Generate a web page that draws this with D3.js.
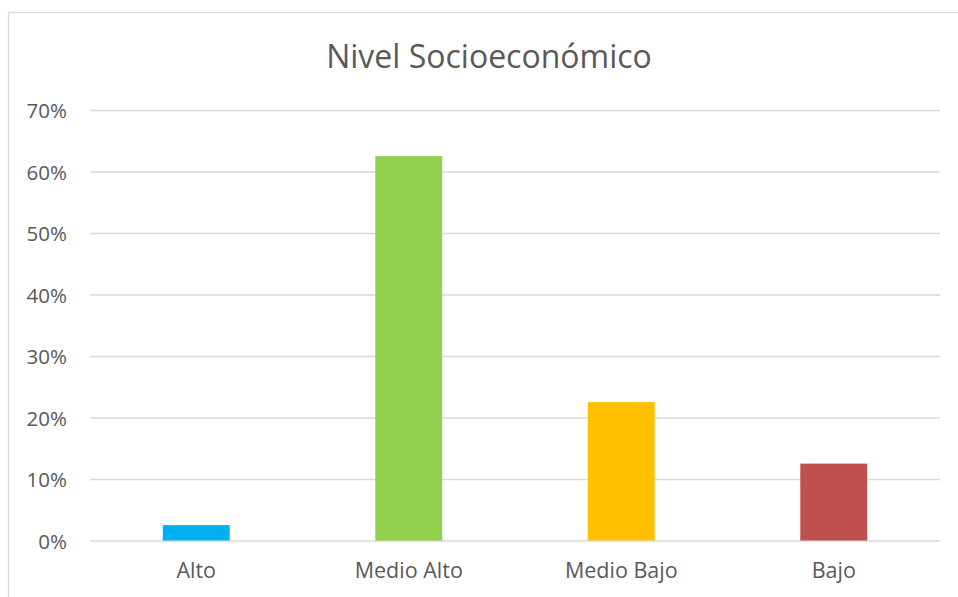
<!DOCTYPE html>
<html>
<head>
<meta charset="utf-8">
<script src="https://cdn.jsdelivr.net/npm/d3@7"></script>
<style>
  html, body { margin: 0; padding: 0; background: #fff; }
  svg { display: block; }
  text { font-family: "Open Sans", "Noto Sans", sans-serif; fill: #595959; }
</style>
</head>
<body>
<svg id="chart" width="958" height="597"></svg>
<script>
// Distribución por nivel socioeconómico
const categories = ["Alto", "Medio Alto", "Medio Bajo", "Bajo"];
const values = [0.025, 0.625, 0.225, 0.125];
const colors = ["#00B0F0", "#92D050", "#FFC000", "#C0504D"];
const yTicks = [0, 0.1, 0.2, 0.3, 0.4, 0.5, 0.6, 0.7];
const title = "Nivel Socioeconómico";

const svg = d3.select("#chart");
const plot = { left: 90, right: 940, top: 110, bottom: 540.5 };

// Chart frame
svg.append("rect")
  .attr("x", 8.5).attr("y", 12.5)
  .attr("width", 980).attr("height", 620)
  .attr("fill", "#fff")
  .attr("stroke", "#d9d9d9").attr("stroke-width", 1.3);

const x = d3.scaleBand()
  .domain(categories)
  .range([plot.left, plot.right])
  .paddingInner(0.685)
  .paddingOuter(0.3425);

const y = d3.scaleLinear()
  .domain([0, 0.7])
  .range([plot.bottom, plot.top]);

// Gridlines and y labels
const yAxis = d3.axisLeft(y)
  .tickValues(yTicks)
  .tickFormat(d3.format(".0%"))
  .tickSize(-(plot.right - plot.left))
  .tickPadding(23);

const gy = svg.append("g")
  .attr("transform", `translate(${plot.left},0)`)
  .call(yAxis);
gy.select(".domain").remove();
gy.selectAll(".tick line").attr("stroke", "#d9d9d9").attr("stroke-width", 1.3);
gy.selectAll(".tick text")
  .attr("fill", "#595959")
  .style("font-size", "20.5px")
  .attr("dy", "0.38em");

// Bars
svg.append("g").selectAll("rect")
  .data(categories)
  .join("rect")
  .attr("x", d => x(d))
  .attr("width", x.bandwidth())
  .attr("y", (d, i) => y(values[i]))
  .attr("height", (d, i) => y(0) - y(values[i]))
  .attr("fill", (d, i) => colors[i]);

// Category labels
const xAxis = d3.axisBottom(x).tickSize(0).tickPadding(22);
const gx = svg.append("g")
  .attr("transform", `translate(0,${plot.bottom})`)
  .call(xAxis);
gx.select(".domain").remove();
gx.selectAll(".tick text")
  .attr("fill", "#595959")
  .style("font-size", "21.5px");

// Title
svg.append("text")
  .attr("x", 489)
  .attr("y", 68)
  .attr("text-anchor", "middle")
  .style("font-size", "32px")
  .text(title);
</script>
</body>
</html>
